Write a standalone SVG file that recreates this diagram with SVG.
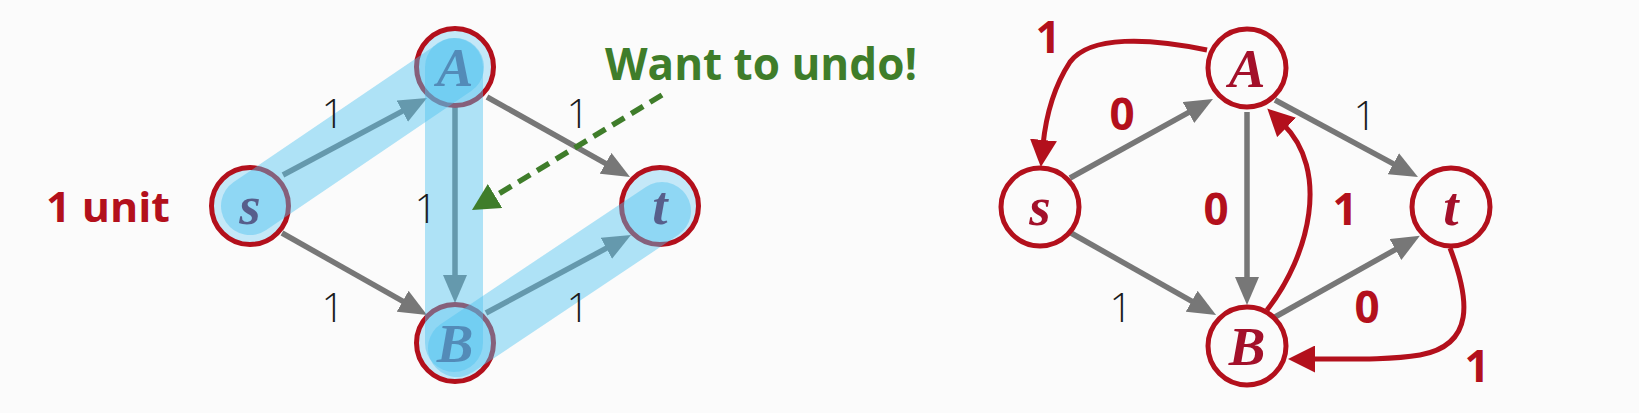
<svg xmlns="http://www.w3.org/2000/svg" width="1639" height="413" viewBox="0 0 1639 413">
  <defs>
    <marker id="gray-head" markerUnits="userSpaceOnUse" viewBox="0 0 28 24" markerWidth="28" markerHeight="24" refX="6" refY="12" orient="auto">
      <path d="M0,0 L28,12 L0,24 z" fill="#777777"/>
    </marker>
    <marker id="red-head" markerUnits="userSpaceOnUse" viewBox="0 0 27 27" markerWidth="27" markerHeight="27" refX="5" refY="13.5" orient="auto">
      <path d="M0,0 L27,13.5 L0,27 z" fill="#b3101c"/>
    </marker>
    <marker id="green-head" markerUnits="userSpaceOnUse" viewBox="0 0 27 28" markerWidth="27" markerHeight="28" refX="5" refY="14" orient="auto">
      <path d="M0,0 L27,14 L0,28 z" fill="#3f7d2a"/>
    </marker>
    <style>
      .edge { stroke: #777777; stroke-width: 5.5; fill: none; marker-end: url(#gray-head); }
      .redcurve { stroke: #b3101c; stroke-width: 5; fill: none; marker-end: url(#red-head); }
      .dashed { stroke: #3f7d2a; stroke-width: 5.5; fill: none; stroke-dasharray: 14 8; marker-end: url(#green-head); }
      .band { stroke: rgb(80,195,240); stroke-opacity: 0.45; stroke-width: 58; stroke-linecap: round; fill: none; }
      .node { stroke: #b3101c; stroke-width: 5; }
      .hl { fill: #c4e8f8; }
      .plain { fill: #fbfbfb; }
      .letter { font-family: "Liberation Serif", "DejaVu Serif", serif; font-style: italic; font-weight: bold; font-size: 55px; fill: #a3102a; text-anchor: middle; }
      .dark { fill: #5e0c3a; }
      .thin { font-family: "Open Sans", "Liberation Sans", sans-serif; font-weight: 300; font-size: 40px; fill: #1a1a1a; text-anchor: middle; }
      .bold { font-family: "Open Sans", "Liberation Sans", sans-serif; font-weight: bold; font-size: 44px; fill: #b3101c; text-anchor: middle; }
      .unit { font-family: "Open Sans", "Liberation Sans", sans-serif; font-weight: bold; font-size: 41px; fill: #b3101c; text-anchor: start; }
      .green { font-family: "Open Sans", "Liberation Sans", sans-serif; font-weight: bold; font-size: 45px; fill: #3f7d2a; text-anchor: start; }
    </style>
  </defs>
  <rect x="0" y="0" width="1639" height="413" fill="#fbfbfb"/>

  <g id="connectors">
    <!-- left graph -->
    <path class="edge" d="M283,175 L407.6,108.4"/>
    <path class="edge" d="M282,233 L407.9,304.2"/>
    <path class="edge" d="M455,107 L455,281"/>
    <path class="edge" d="M487,97 L610.8,166.3"/>
    <path class="edge" d="M486,313 L611.6,245.4"/>
    <!-- right graph -->
    <path class="edge" d="M1070,178 L1193.7,109.6"/>
    <path class="edge" d="M1071,233 L1196.9,304.2"/>
    <path class="edge" d="M1247,112 L1247,283"/>
    <path class="edge" d="M1275,100 L1398.6,166.6"/>
    <path class="edge" d="M1275,317 L1400.7,246.6"/>
    <path class="redcurve" d="M1207,50 C1150,38 1090,35 1070,62 C1055,85 1046,115 1043,145"/>
    <path class="redcurve" d="M1267,310 C1310,255 1330,170 1283,124"/>
    <path class="redcurve" d="M1450,248 C1470,300 1475,345 1420,355 C1390,360 1350,359 1310,359"/>
  </g>

  <g id="node-s-left">
    <circle class="node hl" cx="250" cy="206" r="38.5"/>
    <text class="letter dark" x="250" y="224">s</text>
  </g>
  <g id="node-A-left">
    <circle class="node hl" cx="455" cy="67" r="38.5"/>
    <text class="letter dark" x="455" y="86">A</text>
  </g>
  <g id="node-B-left">
    <circle class="node hl" cx="455" cy="343" r="38.5"/>
    <text class="letter dark" x="455" y="362">B</text>
  </g>
  <g id="node-t-left">
    <circle class="node hl" cx="660" cy="206" r="38.5"/>
    <text class="letter dark" x="660" y="224">t</text>
  </g>

  <g id="highlight">
    <path class="band" d="M250,206 L455,67"/>
    <path class="band" d="M454,67 L454,343"/>
    <path class="band" d="M457,348 L662,211"/>
  </g>

  <g id="node-s-right">
    <circle class="node plain" cx="1040" cy="207" r="39"/>
    <text class="letter" x="1040" y="225">s</text>
  </g>
  <g id="node-A-right">
    <circle class="node plain" cx="1247" cy="68" r="39"/>
    <text class="letter" x="1247" y="87">A</text>
  </g>
  <g id="node-B-right">
    <circle class="node plain" cx="1247" cy="346" r="39"/>
    <text class="letter" x="1247" y="365">B</text>
  </g>
  <g id="node-t-right">
    <circle class="node plain" cx="1451" cy="207" r="39"/>
    <text class="letter" x="1451" y="225">t</text>
  </g>

  <g id="annotation">
    <path class="dashed" d="M662,95 L490.8,198.6"/>
    <text class="green" x="605" y="80" textLength="312" lengthAdjust="spacingAndGlyphs">Want to undo!</text>
    <text class="unit" x="46" y="222" textLength="124" lengthAdjust="spacingAndGlyphs">1 unit</text>
  </g>

  <g id="labels">
    <text class="thin" x="333" y="128">1</text>
    <text class="thin" x="333" y="322">1</text>
    <text class="thin" x="426" y="223">1</text>
    <text class="thin" x="578" y="128">1</text>
    <text class="thin" x="578" y="322">1</text>

    <text class="bold" x="1048" y="53">1</text>
    <text class="bold" x="1122" y="130">0</text>
    <text class="thin" x="1365" y="130">1</text>
    <text class="bold" x="1216" y="225">0</text>
    <text class="bold" x="1345" y="225">1</text>
    <text class="thin" x="1121" y="322">1</text>
    <text class="bold" x="1367" y="323">0</text>
    <text class="bold" x="1477" y="382">1</text>
  </g>
</svg>
